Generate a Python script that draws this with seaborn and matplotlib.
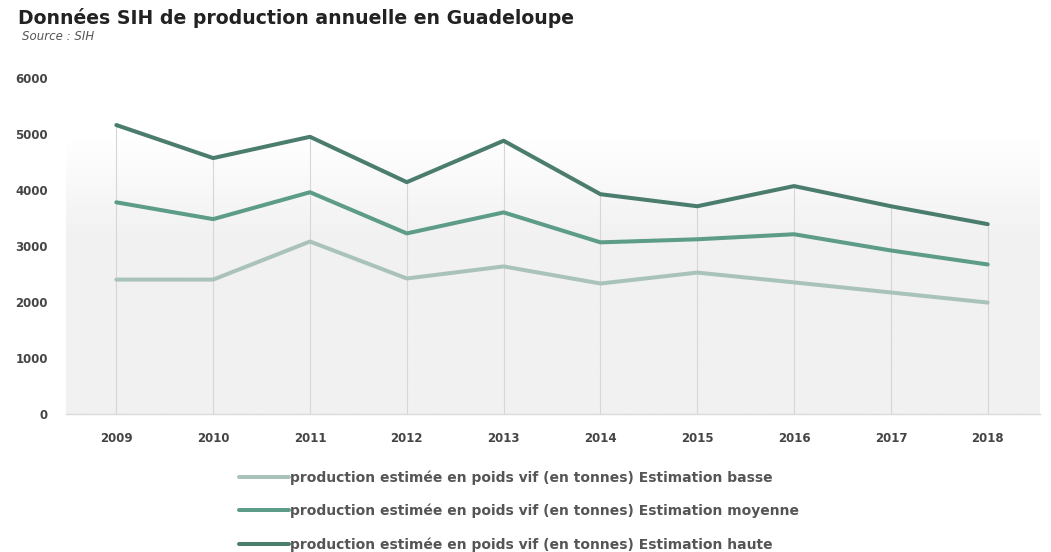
import matplotlib
matplotlib.use("Agg")

import matplotlib.pyplot as plt
import numpy as np
import pandas as pd
import seaborn as sns

# --- DATA ---
years = ["2009", "2010", "2011", "2012", "2013", "2014", "2015", "2016", "2017", "2018"]
basse = [2400, 2400, 3080, 2420, 2635, 2330, 2525, 2350, 2170, 1990]
moyenne = [3780, 3480, 3960, 3225, 3600, 3065, 3120, 3210, 2920, 2670]
haute = [5160, 4570, 4950, 4140, 4880, 3925, 3710, 4070, 3710, 3390]

prefix = "production estimée en poids vif (en tonnes) "
series_names = [prefix + "Estimation basse",
                prefix + "Estimation moyenne",
                prefix + "Estimation haute"]

df = pd.DataFrame({
    "Année": years * 3,
    "Valeur": basse + moyenne + haute,
    "Série": [series_names[0]] * 10 + [series_names[1]] * 10 + [series_names[2]] * 10,
})
df["x"] = df["Année"].map({y: i for i, y in enumerate(years)})

palette = {series_names[0]: "#aac3ba",
           series_names[1]: "#5c9c88",
           series_names[2]: "#4b7d6e"}

sns.set_style("white")
plt.rcParams["font.family"] = ["DejaVu Sans"]

fig = plt.figure(figsize=(10.51, 5.52), dpi=100)
ax = fig.add_axes([66 / 1051, 1 - 414 / 552, (1040 - 66) / 1051, (414 - 78) / 552])

# gradient background (white at top, light grey below)
grad = np.linspace(0, 1, 256).reshape(-1, 1)
grad = np.clip((grad - 0.18) / 0.3, 0, 1)
cmap = matplotlib.colors.LinearSegmentedColormap.from_list("bg", ["#ffffff", "#f1f1f1"])
ax.imshow(grad, aspect="auto", cmap=cmap, extent=(-0.52, 9.54, 0, 6000),
          origin="upper", zorder=0)

# vertical drop lines up to the highest series
ax.vlines(range(len(years)), 0, haute, color="#d6d6d6", lw=0.8, zorder=1)

sns.lineplot(data=df, x="x", y="Valeur", hue="Série", palette=palette,
             linewidth=2.9, ax=ax, zorder=3, legend=False)

ax.set_xlim(-0.52, 9.54)
ax.set_ylim(0, 6000)
ax.set_xticks(range(len(years)))
ax.set_xticklabels(years)
ax.set_yticks(range(0, 6001, 1000))
ax.set_xlabel("")
ax.set_ylabel("")
ax.tick_params(axis="both", length=0, labelsize=8.5, colors="#444444")
ax.tick_params(axis="y", pad=13)
ax.tick_params(axis="x", pad=13)
for lbl in ax.get_xticklabels() + ax.get_yticklabels():
    lbl.set_fontweight("bold")

for side in ["top", "right", "left"]:
    ax.spines[side].set_visible(False)
ax.spines["bottom"].set_color("#d9d9d9")
ax.spines["bottom"].set_linewidth(1.0)

fig.text(18 / 1051, 1 - 18 / 552, "Données SIH de production annuelle en Guadeloupe",
         fontsize=13.6, fontweight="bold", color="#222222", va="center")
fig.text(22 / 1051, 1 - 37 / 552, "Source : SIH", fontsize=8.5, style="italic",
         color="#555555", va="center")

handles = [matplotlib.lines.Line2D([], [], color=palette[n], lw=2.9) for n in series_names]
fig.legend(handles, series_names, loc="upper left",
           bbox_to_anchor=(226 / 1051, 1 - 458 / 552), frameon=False,
           prop={"size": 10, "weight": "bold"}, labelcolor="#555555",
           handlelength=3.6, handletextpad=0.1, labelspacing=1.35)

plt.savefig("out.png", dpi=100)
